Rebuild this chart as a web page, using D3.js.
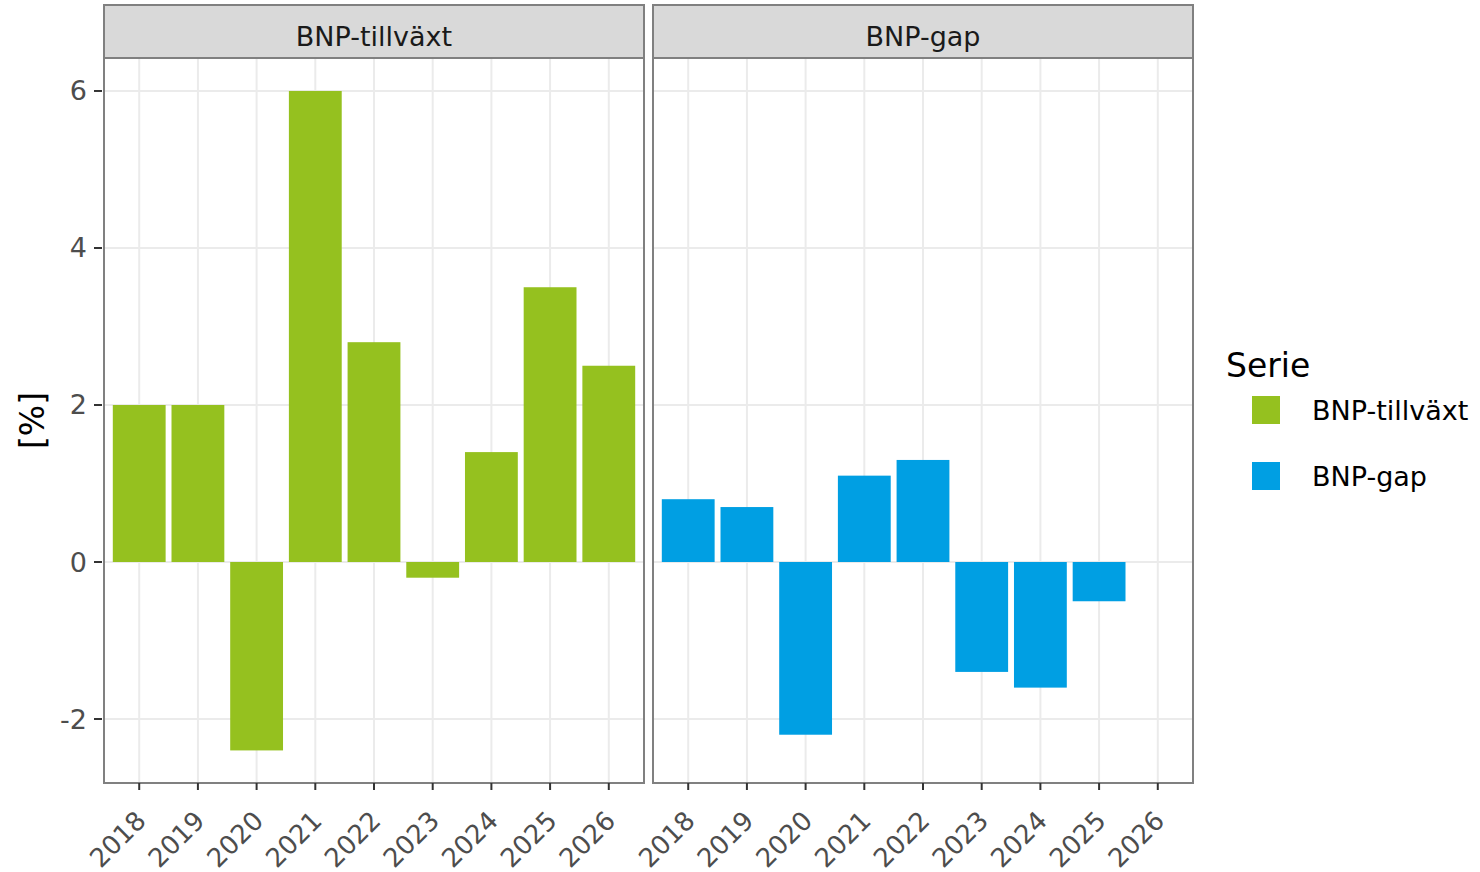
<!DOCTYPE html>
<html>
<head>
<meta charset="utf-8">
<script src="https://cdn.jsdelivr.net/npm/d3@7"></script>
<style>
  html, body { margin: 0; padding: 0; background: #fff; }
  text { font-family: "DejaVu Sans", Verdana, sans-serif; }
</style>
</head>
<body>
<svg id="chart" width="1480" height="872"></svg>
<script>
const years = ["2018","2019","2020","2021","2022","2023","2024","2025","2026"];
const seriesNames = ["BNP-tillväxt", "BNP-gap"];
const tillvaxt = [2.0, 2.0, -2.4, 6.0, 2.8, -0.2, 1.4, 3.5, 2.5];
const gap = [0.8, 0.7, -2.2, 1.1, 1.3, -1.4, -1.6, -0.5, null];
const yTicks = [-2, 0, 2, 4, 6];
const colors = ["#95C11F", "#009FE3"];
const legendTitle = "Serie";
const yLabel = "[%]";

const svg = d3.select("#chart");
const panels = [
  { name: seriesNames[0], values: tillvaxt, color: colors[0], x0: 104, x1: 644 },
  { name: seriesNames[1], values: gap, color: colors[1], x0: 653, x1: 1193 }
];
const stripTop = 5, panelTop = 58, panelBottom = 783;

const y = d3.scaleLinear().domain([-2.815, 6.42]).range([panelBottom, panelTop]);

panels.forEach((p, pi) => {
  const xc = d3.scalePoint().domain(years).range([p.x0, p.x1]).padding(0.6);
  const step = xc.step();
  const bw = step * 0.9;

  const g = svg.append("g");
  g.append("rect").attr("x", p.x0).attr("y", panelTop).attr("width", p.x1 - p.x0).attr("height", panelBottom - panelTop).attr("fill", "#fff");
  // gridlines
  g.selectAll(".gy").data(yTicks).enter().append("line")
    .attr("x1", p.x0).attr("x2", p.x1).attr("y1", d => y(d)).attr("y2", d => y(d))
    .attr("stroke", "#ebebeb").attr("stroke-width", 2);
  g.selectAll(".gx").data(years).enter().append("line")
    .attr("x1", d => xc(d)).attr("x2", d => xc(d)).attr("y1", panelTop).attr("y2", panelBottom)
    .attr("stroke", "#ebebeb").attr("stroke-width", 2);
  // bars
  const data = years.map((yr, i) => ({ yr, v: p.values[i] })).filter(d => d.v !== null);
  g.selectAll(".bar").data(data).enter().append("rect")
    .attr("x", d => xc(d.yr) - bw / 2)
    .attr("width", bw)
    .attr("y", d => y(Math.max(0, d.v)))
    .attr("height", d => Math.abs(y(d.v) - y(0)))
    .attr("fill", p.color);
  // panel border
  g.append("rect").attr("x", p.x0).attr("y", panelTop).attr("width", p.x1 - p.x0).attr("height", panelBottom - panelTop)
    .attr("fill", "none").attr("stroke", "#808080").attr("stroke-width", 2);
  // strip
  g.append("rect").attr("x", p.x0).attr("y", stripTop).attr("width", p.x1 - p.x0).attr("height", panelTop - stripTop)
    .attr("fill", "#d9d9d9").attr("stroke", "#808080").attr("stroke-width", 2);
  g.append("text").attr("x", (p.x0 + p.x1) / 2).attr("y", 46)
    .attr("text-anchor", "middle")
    .attr("font-size", 27).attr("fill", "#1a1a1a").text(p.name);
  // x axis ticks & labels
  g.selectAll(".xt").data(years).enter().append("line")
    .attr("x1", d => xc(d)).attr("x2", d => xc(d)).attr("y1", panelBottom).attr("y2", panelBottom + 7)
    .attr("stroke", "#333").attr("stroke-width", 2);
  g.selectAll(".xl").data(years).enter().append("text")
    .attr("transform", d => `translate(${xc(d) - 5},${panelBottom + 26}) rotate(-45)`)
    .attr("text-anchor", "end").attr("dy", "0.72em")
    .attr("font-size", 26).attr("fill", "#4d4d4d").text(d => d);

  if (pi === 0) {
    g.selectAll(".yt").data(yTicks).enter().append("line")
      .attr("x1", p.x0 - 10).attr("x2", p.x0 - 2).attr("y1", d => y(d)).attr("y2", d => y(d))
      .attr("stroke", "#333").attr("stroke-width", 2);
    g.selectAll(".yl").data(yTicks).enter().append("text")
      .attr("x", p.x0 - 17).attr("y", d => y(d)).attr("dominant-baseline", "central")
      .attr("text-anchor", "end").attr("font-size", 27).attr("fill", "#4d4d4d").text(d => d);
  }
});

// y label
svg.append("text").attr("transform", `translate(32,${(panelTop + panelBottom) / 2}) rotate(-90)`)
  .attr("text-anchor", "middle").attr("dominant-baseline", "central")
  .attr("font-size", 33).attr("fill", "#000").text(yLabel);

// legend
const lg = svg.append("g");
lg.append("text").attr("x", 1226).attr("y", 377).attr("font-size", 33).attr("fill", "#000").text(legendTitle);
seriesNames.forEach((s, i) => {
  const cy = 410 + i * 66;
  lg.append("rect").attr("x", 1252).attr("y", cy - 14).attr("width", 28).attr("height", 28).attr("fill", colors[i]);
  lg.append("text").attr("x", 1312).attr("y", cy).attr("dominant-baseline", "central")
    .attr("font-size", 27).attr("fill", "#000").text(s);
});
</script>
</body>
</html>
